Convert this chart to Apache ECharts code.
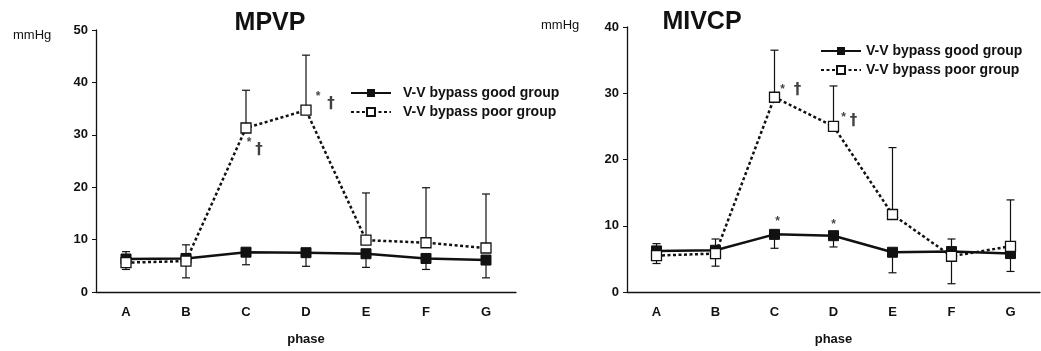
<!DOCTYPE html>
<html>
<head>
<meta charset="utf-8">
<script src="https://cdn.jsdelivr.net/npm/echarts@6/dist/echarts.min.js"></script>
<style>
  html, body { margin: 0; padding: 0; background: #fff; }
  #chart { width: 1041px; height: 351px; }
</style>
</head>
<body>
<div id="chart"></div>
<script>
// phases on x axis
const phases = ['A', 'B', 'C', 'D', 'E', 'F', 'G'];

// MPVP (left panel), means and error whisker tips
const mpvpGood = [6.3, 6.4, 7.6, 7.5, 7.3, 6.4, 6.1];
const mpvpPoor = [5.6, 5.9, 31.3, 34.7, 9.9, 9.4, 8.4];
const mpvpGoodErr = [7.7, 2.7, 5.2, 4.9, 4.7, 4.3, 2.7];
const mpvpPoorErr = [4.3, 9.0, 38.5, 45.2, 18.9, 19.9, 18.7];

// MIVCP (right panel)
const mivcpGood = [6.2, 6.3, 8.7, 8.5, 6.0, 6.1, 5.8];
const mivcpPoor = [5.5, 5.8, 29.4, 25.0, 11.7, 5.4, 6.9];
const mivcpGoodErr = [7.3, 3.9, 6.6, 6.8, 2.9, 8.0, 3.1];
const mivcpPoorErr = [4.3, 8.0, 36.5, 31.1, 21.8, 1.25, 13.9];

// significance marks: [phase, value, text, x offset px]
const mpvpNotes = [['C', 28.5, '*', 3], ['C', 27.1, '†', 13], ['D', 37.2, '*', 12], ['D', 35.8, '†', 25]];
const mivcpNotes = [['C', 30.6, '*', 8], ['C', 30.4, '†', 23], ['D', 26.3, '*', 10], ['D', 25.8, '†', 20],
  ['C', 10.6, '*', 3], ['D', 10.1, '*', 0]];

const GOOD = 'V-V bypass good group';
const POOR = 'V-V bypass poor group';
const FONT = '"Liberation Sans", Arial, Helvetica, sans-serif';
const INK = '#111';

const myChart = echarts.init(document.getElementById('chart'));

function errSeries(idx, means, tips) {
  return {
    type: 'custom',
    xAxisIndex: idx,
    yAxisIndex: idx,
    z: 1,
    silent: true,
    data: means.map((m, i) => [i, m, tips[i]]),
    renderItem: function (params, api) {
      const p0 = api.coord([api.value(0), api.value(1)]);
      const p1 = api.coord([api.value(0), api.value(2)]);
      const s = { stroke: INK, lineWidth: 1.2 };
      return {
        type: 'group',
        children: [
          { type: 'line', shape: { x1: p0[0], y1: p0[1], x2: p1[0], y2: p1[1] }, style: s },
          { type: 'line', shape: { x1: p1[0] - 4, y1: p1[1], x2: p1[0] + 4, y2: p1[1] }, style: s }
        ]
      };
    }
  };
}

function lineSeries(idx, name, data, poor) {
  return {
    name: name,
    type: 'line',
    xAxisIndex: idx,
    yAxisIndex: idx,
    z: 3,
    data: data,
    symbol: 'rect',
    symbolSize: 10,
    lineStyle: { color: INK, width: 2.5, type: poor ? [3, 2.5] : 'solid' },
    itemStyle: poor ? { color: '#fff', borderColor: INK, borderWidth: 1.3 } : { color: INK, borderColor: INK },
    emphasis: { disabled: true },
    animation: false
  };
}

function noteSeries(idx, notes) {
  return {
    type: 'scatter',
    xAxisIndex: idx,
    yAxisIndex: idx,
    symbolSize: 0,
    silent: true,
    z: 4,
    data: notes.map(n => ({
      value: [n[0], n[1]],
      label: {
        show: true,
        formatter: n[2],
        position: 'inside',
        offset: [n[3], 0],
        color: INK,
        fontFamily: n[2] === '*' ? FONT : '"DejaVu Sans", sans-serif',
        fontWeight: 'bold',
        fontSize: n[2] === '*' ? 12 : 15
      }
    }))
  };
}

function xAxis(idx) {
  return {
    type: 'category',
    gridIndex: idx,
    data: phases,
    boundaryGap: true,
    name: 'phase',
    nameLocation: 'middle',
    nameGap: 41,
    nameTextStyle: { color: INK, fontFamily: FONT, fontWeight: 'bold', fontSize: 13 },
    axisLine: { lineStyle: { color: INK, width: 1.3 } },
    axisTick: { alignWithLabel: true, length: 4, lineStyle: { color: INK } },
    axisLabel: { color: INK, fontFamily: FONT, fontWeight: 'bold', fontSize: 13, margin: 14 },
    splitLine: { show: false }
  };
}

function yAxis(idx, max) {
  return {
    type: 'value',
    gridIndex: idx,
    min: 0,
    max: max,
    interval: 10,
    axisLine: { show: true, lineStyle: { color: INK, width: 1.3 } },
    axisTick: { show: true, length: 4, lineStyle: { color: INK } },
    axisLabel: { color: INK, fontFamily: FONT, fontWeight: 'bold', fontSize: 13, margin: 8 },
    splitLine: { show: false }
  };
}

function legend(left, top, textPad) {
  return {
    orient: 'vertical',
    left: left,
    top: top,
    padding: 0,
    itemWidth: 40,
    itemHeight: 10,
    itemGap: 5,
    selectedMode: false,
    data: [GOOD, POOR],
    textStyle: { color: INK, fontFamily: FONT, fontWeight: 'bold', fontSize: 14, padding: [0, 0, 0, textPad] }
  };
}

myChart.setOption({
  backgroundColor: '#fff',
  animation: false,
  title: [
    { text: 'MPVP', left: 265, top: 6, textAlign: 'center',
      textStyle: { color: INK, fontFamily: FONT, fontWeight: 'bold', fontSize: 25 } },
    { text: 'MIVCP', left: 697, top: 5, textAlign: 'center',
      textStyle: { color: INK, fontFamily: FONT, fontWeight: 'bold', fontSize: 25 } }
  ],
  graphic: [
    { type: 'text', left: 13, top: 29, style: { text: 'mmHg', fill: INK, font: '13px ' + FONT } },
    { type: 'text', left: 541, top: 19, style: { text: 'mmHg', fill: INK, font: '13px ' + FONT } }
  ],
  legend: [legend(350, 86, 7), legend(820, 44, 0)],
  grid: [
    { left: 96, top: 30, width: 420, height: 263 },
    { left: 627, top: 27, width: 413, height: 265 }
  ],
  xAxis: [xAxis(0), xAxis(1)],
  yAxis: [yAxis(0, 50), yAxis(1, 40)],
  series: [
    errSeries(0, mpvpGood, mpvpGoodErr),
    errSeries(0, mpvpPoor, mpvpPoorErr),
    lineSeries(0, GOOD, mpvpGood, false),
    lineSeries(0, POOR, mpvpPoor, true),
    noteSeries(0, mpvpNotes),
    errSeries(1, mivcpGood, mivcpGoodErr),
    errSeries(1, mivcpPoor, mivcpPoorErr),
    lineSeries(1, GOOD, mivcpGood, false),
    lineSeries(1, POOR, mivcpPoor, true),
    noteSeries(1, mivcpNotes)
  ]
});

window.onresize = function () {
  myChart.resize();
};
</script>
</body>
</html>
